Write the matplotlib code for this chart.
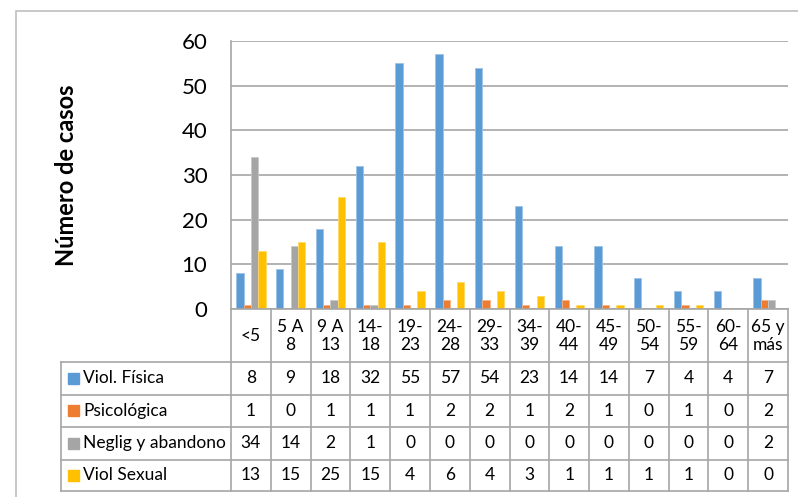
import matplotlib.pyplot as plt
from matplotlib.patches import Rectangle

grupos = ["<5", "5 A\n8", "9 A\n13", "14-\n18", "19-\n23", "24-\n28", "29-\n33",
          "34-\n39", "40-\n44", "45-\n49", "50-\n54", "55-\n59", "60-\n64", "65 y\nmás"]
series = ["Viol. Física", "Psicológica", "Neglig y abandono", "Viol Sexual"]
fisica = [8, 9, 18, 32, 55, 57, 54, 23, 14, 14, 7, 4, 4, 7]
psicologica = [1, 0, 1, 1, 1, 2, 2, 1, 2, 1, 0, 1, 0, 2]
neglig = [34, 14, 2, 1, 0, 0, 0, 0, 0, 0, 0, 0, 0, 2]
sexual = [13, 15, 25, 15, 4, 6, 4, 3, 1, 1, 1, 1, 0, 0]
valores = [fisica, psicologica, neglig, sexual]
colores = ["#5B9BD5", "#ED7D31", "#A5A5A5", "#FFC000"]
bordes = ["#9DC3E6", "#F4B183", "#C9C9C9", "#FFD966"]

W, H = 798, 497
fig = plt.figure(figsize=(W / 100, H / 100), dpi=100)
plt.rcParams['font.family'] = ['Lato', 'DejaVu Sans']

def px(x0, y0, x1, y1):
    return [x0 / W, 1 - y1 / H, (x1 - x0) / W, (y1 - y0) / H]

# marco del gráfico
fig.patches.append(Rectangle((16 / W, -0.1), 2, 1 - 11 / H + 0.1, transform=fig.transFigure,
                             fill=False, edgecolor="#BFBFBF", lw=1.2))

ax = fig.add_axes(px(231, 41, 788, 309))
n = len(grupos)
ancho = 0.184
x = list(range(n))
for k, (vals, c, b) in enumerate(zip(valores, colores, bordes)):
    off = (k - 1.5) * ancho
    ax.bar([i + off for i in x], vals, width=ancho, color=c, edgecolor=b, lw=0.6, zorder=3)

ax.set_xlim(-0.5, n - 0.5)
ax.set_ylim(0, 60)
ax.set_yticks(range(0, 61, 10))
ax.tick_params(axis="y", length=0, labelsize=16, pad=17)
ax.set_xticks([])
ax.grid(axis="y", color="#A6A6A6", lw=1.2, zorder=0)
for s in ["top", "right", "bottom"]:
    ax.spines[s].set_visible(False)
ax.spines["left"].set_color("#A6A6A6")
ax.spines["left"].set_linewidth(1.2)
fig.text(66 / W, 1 - 175 / H, "Número de casos", rotation=90, ha="center", va="center",
         fontsize=17, fontweight="bold")

# tabla de datos
cat_px = (788 - 231) / n
tax = fig.add_axes(px(61, 309, 788, 491))
izq = -0.5 - (231 - 61) / cat_px
tax.set_xlim(izq, n - 0.5)
tax.set_ylim(182, 0)
tax.axis("off")
lc = "#A6A6A6"
filas = [53, 85.5, 118, 150.5, 182]
tax.plot([-0.5, n - 0.5], [0, 0], color=lc, lw=1.2, clip_on=False)
for yy in filas:
    tax.plot([izq, n - 0.5], [yy, yy], color=lc, lw=1.2, clip_on=False)
for i in range(n + 1):
    tax.plot([i - 0.5, i - 0.5], [0, 182], color=lc, lw=1.2, clip_on=False)
tax.plot([izq, izq], [53, 182], color=lc, lw=1.2, clip_on=False)

for i, g in enumerate(grupos):
    tax.text(i, 27, g, ha="center", va="center", fontsize=12.5, linespacing=1.2)
for r, (nombre, vals, c) in enumerate(zip(series, valores, colores)):
    yc = (filas[r] + filas[r + 1]) / 2
    tax.add_patch(Rectangle((izq + 7 / cat_px, yc - 5.5), 11 / cat_px, 11, color=c))
    tax.text(izq + 22 / cat_px, yc, nombre, ha="left", va="center", fontsize=12.5)
    for i, v in enumerate(vals):
        tax.text(i, yc, str(v), ha="center", va="center", fontsize=12.5)

plt.savefig("out.png", dpi=100)
